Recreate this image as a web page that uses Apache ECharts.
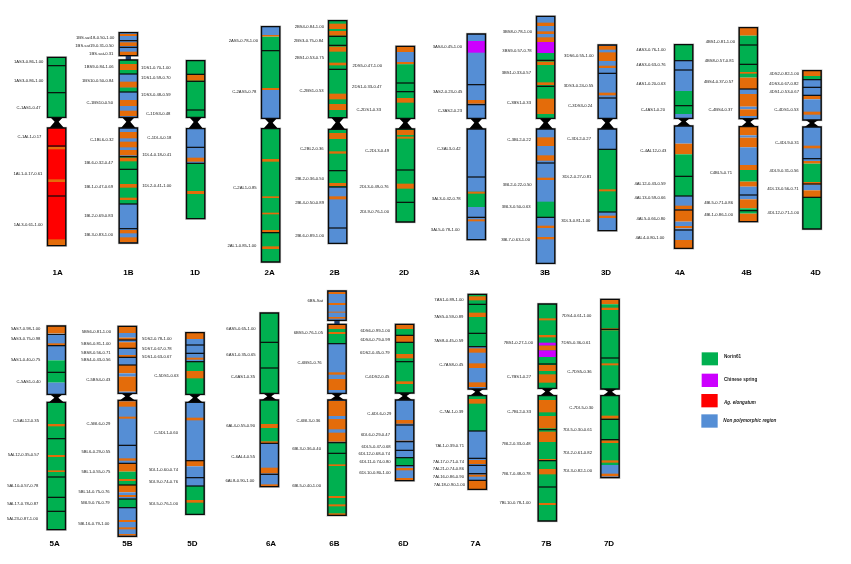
<!DOCTYPE html>
<html><head><meta charset="utf-8">
<style>html,body{margin:0;padding:0;background:#fff}#c{width:851px;height:564px}</style>
<script src="https://cdn.jsdelivr.net/npm/echarts@6/dist/echarts.min.js"></script>
</head><body><div id="c"></div>
<script>
// Map units: 3 units = 1 px. Each chromosome: arms, fragment dividers, bands [from,to,type], labels [rightEdge,y,text]
const panelOffsets=[0,215,425,630];
const typeColors={G:'#00B050',O:'#E46C0A',B:'#558ED5',P:'#CC00FF',R:'#FF0000'};

const arms1A=[[142,322],[354,707]], div1A=[167,248,408,558];
const bands1A=[[142,322,'G'],[354,707,'R'],[411,418,'O'],[508,516,'O'],[688,705,'O']];
const labels1A=[[130,155,'1AS3-0.86-1.00'],[130,213,'1AS3-0.86-1.00'],[122,294,'C-1AS1-0.47'],[124,381,'C-1AL1-0.17'],[127,492,'1AL1-0.17-0.61'],[128,645,'1AL3-0.61-1.00']];

const arms1B=[[68,137],[150,322],[354,699]], div1B=[92,112,192,246,440,478,582,656];
const bands1B=[[68,137,'B'],[72,78,'O'],[97,108,'O'],[125,135,'O'],[150,192,'G'],[162,180,'O'],[192,246,'B'],[215,233,'O'],[233,246,'G'],[246,322,'B'],[270,288,'O'],[302,318,'O'],[354,440,'B'],[366,385,'O'],[395,412,'O'],[420,436,'O'],[440,478,'G'],[443,454,'O'],[478,582,'G'],[522,533,'O'],[563,570,'O'],[582,656,'B'],[656,699,'B'],[660,670,'O'],[682,697,'O']];
const labels1B=[[343,85,'1BS.sat18-0.50-1.00'],[341,108,'1BS.sat19-0.31-0.50'],[340,133,'1BS.sat-0.31'],[341,171,'1BS9-0.84-1.06'],[341,213,'1BS10-0.50-0.84'],[339,279,'C-1BS10-0.50'],[341,390,'C-1BL6-0.32'],[339,460,'1BL6-0.32-0.47'],[339,532,'1BL1-0.47-0.69'],[339,618,'1BL2-0.69-0.83'],[339,675,'1BL3-0.83-1.00']];

const arms1D=[[152,322],[356,626]], div1D=[193,214,300,412,460];
const bands1D=[[152,322,'G'],[195,212,'O'],[356,460,'B'],[443,455,'O'],[460,626,'G'],[543,552,'O']];
const labels1D=[[512,173,'1DS1-0.70-1.00'],[512,205,'1DS1-0.59-0.70'],[512,256,'1DS3-0.48-0.59'],[511,312,'C-1DS3-0.48'],[514,384,'C-1DL4-0.18'],[514,435,'1DL4-0.18-0.41'],[514,528,'1DL2-0.41-1.00']];

const arms2A=[[50,325],[356,756]], div2A=[122,668];
const bands2A=[[50,78,'B'],[75,80,'O'],[80,235,'G'],[234,240,'O'],[240,325,'B'],[356,756,'G'],[447,455,'O'],[559,564,'O'],[608,613,'O'],[660,666,'O'],[709,717,'O']];
const labels2A=[[129,92,'2AS5-0.78-1.00'],[124,246,'C-2AS5-0.78'],[125,534,'C-2AL1-0.85'],[124,709,'2AL1-0.85-1.00']];

const arms2B=[[32,323],[358,700]], div2B=[79,106,178,482,531,654];
const bands2B=[[32,323,'G'],[41,57,'O'],[63,77,'O'],[110,125,'O'],[158,166,'O'],[251,268,'O'],[282,300,'O'],[358,531,'G'],[369,387,'O'],[424,431,'O'],[519,528,'O'],[531,700,'B'],[559,568,'O']];
const labels2B=[[327,52,'2BS4-0.84-1.00'],[325,93,'2BS3-0.75-0.84'],[327,145,'2BS1-0.53-0.75'],[326,244,'C-2BS1-0.53'],[326,416,'C-2BL2-0.36'],[327,506,'2BL2-0.36-0.50'],[327,579,'2BL4-0.50-0.89'],[327,677,'2BL6-0.89-1.00']];

const arms2D=[[109,325],[357,636]], div2D=[219,245,480,577];
const bands2D=[[109,126,'O'],[126,163,'B'],[156,163,'O'],[163,325,'G'],[264,278,'O'],[357,636,'G'],[360,375,'O'],[380,386,'O'],[521,536,'O']];
const labels2D=[[501,167,'2DS5-0.47-1.00'],[500,232,'2DS1-0.33-0.47'],[498,301,'C-2DS1-0.33'],[522,422,'C-2DL3-0.49'],[521,530,'2DL3-0.49-0.76'],[522,607,'2DL9-0.76-1.00']];

const arms3A=[[72,325],[357,689]], div3A=[224,284,501,622];
const bands3A=[[72,325,'B'],[93,128,'P'],[270,281,'O'],[357,689,'B'],[545,591,'G'],[545,551,'O'],[628,634,'O']];
const labels3A=[[111,111,'3AS4-0.45-1.00'],[112,246,'3AS2-0.23-0.45'],[111,303,'C-3AS2-0.23'],[107,416,'C-3AL3-0.42'],[107,568,'3AL3-0.42-0.78'],[104,661,'3AL5-0.78-1.00']];

const arms3B=[[19,325],[357,760]], div3B=[151,229,459,622];
const bands3B=[[19,96,'B'],[38,48,'O'],[64,72,'O'],[82,96,'O'],[96,129,'P'],[129,325,'G'],[155,165,'O'],[217,225,'O'],[266,312,'O'],[357,760,'B'],[382,408,'O'],[436,452,'O'],[503,510,'O'],[575,622,'G'],[647,654,'O'],[681,688,'O']];
const labels3B=[[321,66,'3BS8-0.78-1.00'],[320,123,'3BS9-0.57-0.78'],[318,188,'3BS1-0.33-0.57'],[318,278,'C-3BS1-0.33'],[318,391,'C-3BL2-0.22'],[320,526,'3BL2-0.22-0.50'],[317,591,'3BL3-0.50-0.63'],[315,689,'3BL7-0.63-1.00']];

const arms3D=[[105,325],[357,662]], div3D=[190,264,418,606];
const bands3D=[[105,325,'B'],[108,119,'O'],[127,153,'O'],[167,174,'O'],[248,256,'O'],[357,418,'B'],[418,606,'G'],[538,544,'O'],[606,662,'B'],[617,624,'O']];
const labels3D=[[506,138,'3DS6-0.55-1.00'],[505,228,'3DS3-0.24-0.55'],[502,289,'C-3DS3-0.24'],[498,387,'C-3DL2-0.27'],[499,501,'3DL2-0.27-0.81'],[496,634,'3DL3-0.81-1.00']];

const arms4A=[[104,325],[348,715]], div4A=[152,180,287,499,558,600,660];
const bands4A=[[104,152,'G'],[152,243,'B'],[243,312,'G'],[312,325,'B'],[348,401,'B'],[401,433,'O'],[433,558,'G'],[558,600,'B'],[587,597,'O'],[600,635,'O'],[635,648,'B'],[648,655,'O'],[655,690,'B'],[690,715,'O']];
const labels4A=[[107,119,'4AS3-0.76-1.00'],[107,165,'4AS3-0.63-0.76'],[107,221,'4AS1-0.20-0.63'],[105,301,'C-4AS1-0.20'],[109,422,'C-4AL12-0.43'],[107,523,'4AL12-0.43-0.59'],[107,565,'4AL13-0.59-0.66'],[106,627,'4AL5-0.66-0.80'],[103,685,'4AL4-0.80-1.00']];

const arms4B=[[53,326],[350,635]], div4B=[105,163,237,555,602];
const bands4B=[[53,77,'O'],[77,203,'G'],[186,191,'O'],[203,237,'O'],[237,252,'B'],[252,290,'O'],[290,298,'B'],[298,318,'O'],[318,326,'B'],[350,376,'O'],[376,383,'B'],[383,412,'O'],[412,465,'B'],[465,480,'O'],[480,515,'G'],[515,530,'O'],[530,568,'B'],[568,595,'O'],[595,611,'G'],[611,635,'O']];
const labels4B=[[315,96,'4BS1-0.81-1.00'],[312,153,'4BS8-0.57-0.81'],[310,217,'4BS4-0.37-0.57'],[308,299,'C-4BS4-0.37'],[306,490,'C4BL5-0.71'],[309,579,'4BL5-0.71-0.86'],[309,615,'4BL1-0.86-1.00']];

const arms4D=[[182,330],[351,657]], div4D=[209,232,256,446,522,562];
const bands4D=[[182,198,'O'],[198,209,'G'],[209,258,'B'],[258,268,'O'],[268,330,'B'],[305,314,'O'],[351,453,'B'],[407,415,'O'],[453,461,'O'],[461,516,'G'],[516,524,'O'],[524,541,'B'],[541,562,'O'],[562,657,'G']];
const labels4D=[[507,192,'4DS2-0.82-1.00'],[506,222,'4DS3-0.67-0.82'],[507,246,'4DS1-0.53-0.67'],[506,300,'C-4DS1-0.53'],[507,399,'C-4DL9-0.31'],[506,482,'4DL9-0.31-0.56'],[506,538,'4DL13-0.56-0.71'],[507,608,'4DL12-0.71-1.00']];

const arms5A=[[123,328],[352,734]], div5A=[148,182,262,461,576,637,679];
const bands5A=[[123,145,'O'],[148,182,'B'],[175,180,'O'],[182,226,'B'],[226,293,'G'],[293,328,'B'],[352,734,'G'],[417,424,'O'],[510,516,'O'],[556,561,'O']];
const labels5A=[[121,132,'5AS7-0.98-1.00'],[121,163,'5AS3-0.75-0.98'],[121,224,'5AS1-0.40-0.75'],[122,291,'C-5AS1-0.40'],[117,408,'C-5AL12-0.35'],[117,511,'5AL12-0.35-0.57'],[115,603,'5AL10-0.57-0.78'],[115,657,'5AL17-0.78-0.87'],[114,703,'5AL23-0.87-1.00']];

const arms5B=[[124,325],[346,754]], div5B=[165,190,217,240,481,535,600,642,668];
const bands5B=[[124,144,'O'],[144,158,'B'],[158,172,'O'],[165,172,'B'],[172,190,'O'],[190,210,'B'],[210,217,'O'],[217,240,'B'],[240,265,'O'],[265,275,'B'],[275,320,'O'],[320,325,'B'],[346,535,'B'],[349,365,'O'],[395,401,'O'],[520,527,'O'],[535,560,'O'],[560,600,'G'],[582,588,'O'],[600,622,'O'],[622,642,'B'],[630,636,'O'],[642,668,'G'],[668,754,'B'],[705,711,'O'],[727,733,'O'],[747,752,'O']];
const labels5B=[[333,140,'5BS6-0.81-1.00'],[332,178,'5BS6-0.81-1.00'],[332,203,'5BS8-0.56-0.71'],[332,226,'5BS4-0.43-0.56'],[331,285,'C-5BS4-0.43'],[331,416,'C-5BL6-0.29'],[331,500,'5BL6-0.29-0.55'],[331,561,'5BL1-0.55-0.75'],[329,621,'5BL14-0.75-0.76'],[329,653,'5BL9-0.76-0.79'],[328,717,'5BL16-0.79-1.00']];

const arms5D=[[143,328],[352,688]], div5D=[180,205,230,527,578,603];
const bands5D=[[143,162,'O'],[162,230,'B'],[218,224,'O'],[230,328,'G'],[258,280,'O'],[352,527,'B'],[398,406,'O'],[527,544,'O'],[544,603,'B'],[603,688,'G'],[645,653,'O']];
const labels5D=[[515,162,'5DS2-0.78-1.00'],[515,192,'5DS7-0.67-0.78'],[515,217,'5DS1-0.63-0.67'],[536,272,'C-5DS1-0.63'],[534,444,'C-5DL1-0.60'],[534,555,'5DL1-0.60-0.74'],[534,591,'5DL9-0.74-0.76'],[534,657,'5DL5-0.76-1.00']];

const arms6A=[[84,325],[345,605]], div6A=[172,249,475,568];
const bands6A=[[84,325,'G'],[345,475,'G'],[417,429,'O'],[469,475,'O'],[475,568,'B'],[548,565,'O'],[568,605,'B'],[598,605,'O']];
const labels6A=[[122,131,'6AS5-0.65-1.00'],[122,211,'6AS1-0.35-0.65'],[120,277,'C-6AS1-0.35'],[120,423,'6AL4-0.55-0.90'],[120,515,'C-6AL4-0.55'],[118,587,'6AL8-0.90-1.00']];

const arms6B=[[18,106],[118,325],[345,691]], div6B=[176,473,505];
const bands6B=[[18,106,'B'],[21,27,'O'],[54,60,'O'],[80,83,'O'],[96,101,'O'],[118,132,'O'],[132,176,'G'],[141,147,'O'],[176,325,'B'],[262,269,'O'],[282,315,'O'],[345,473,'B'],[348,393,'O'],[402,433,'O'],[443,470,'O'],[473,691,'G'],[538,543,'O'],[633,639,'O'],[658,664,'O'],[685,690,'O']];
const labels6B=[[324,48,'6BS-Sat'],[324,144,'6BS5-0.76-1.05'],[320,235,'C-6BS1-0.76'],[316,408,'C-6BL3-0.36'],[318,492,'6BL3-0.36-0.40'],[318,604,'6BL5-0.40-1.00']];

const arms6D=[[118,324],[345,587]], div6D=[151,172,230,420,470,496,518,542];
const bands6D=[[118,132,'O'],[132,151,'G'],[151,172,'O'],[172,324,'G'],[207,220,'O'],[289,297,'O'],[345,518,'B'],[405,416,'O'],[467,470,'O'],[518,542,'G'],[542,587,'B'],[549,556,'O'],[579,585,'O']];
const labels6D=[[525,139,'6DS6-0.99-1.00'],[525,165,'6DS4-0.79-0.99'],[524,203,'6DS2-0.45-0.79'],[523,275,'C-6DS2-0.45'],[529,387,'C-6DL6-0.29'],[525,449,'6DL6-0.29-0.47'],[527,486,'6DL5-0.47-0.68'],[525,508,'6DL12-0.68-0.74'],[527,531,'6DL11-0.74-0.80'],[527,565,'6DL10-0.80-1.00']];

const arms7A=[[28,312],[332,613]], div7A=[58,145,185,438,520,541,566,586];
const bands7A=[[28,185,'G'],[34,46,'O'],[83,96,'O'],[185,312,'B'],[190,203,'O'],[235,249,'O'],[292,306,'O'],[332,438,'G'],[342,356,'O'],[438,586,'B'],[525,537,'O'],[569,575,'O'],[586,613,'O']];
const labels7A=[[116,46,'7AS1-0.89-1.00'],[115,95,'7AS5-0.59-0.89'],[115,168,'7AS8-0.45-0.59'],[115,240,'C-7AS8-0.45'],[115,380,'C-7AL1-0.39'],[117,483,'7AL1-0.39-0.71'],[117,532,'7AL17-0.71-0.74'],[117,553,'7AL21-0.74-0.86'],[117,576,'7AL16-0.86-0.90'],[120,601,'7AL18-0.90-1.00']];

const arms7B=[[57,310],[332,708]], div7B=[237,434,527,606];
const bands7B=[[57,310,'G'],[100,106,'O'],[150,157,'O'],[173,182,'P'],[182,196,'O'],[196,216,'P'],[240,258,'O'],[268,293,'O'],[332,708,'G'],[345,382,'O'],[393,430,'O'],[440,471,'O'],[522,527,'O'],[552,568,'O'],[654,660,'O']];
const labels7B=[[324,174,'7BS1-0.27-1.00'],[318,275,'C-7BS1-0.27'],[318,381,'C-7BL2-0.33'],[317,478,'7BL2-0.33-0.48'],[317,566,'7BL7-0.48-0.78'],[317,655,'7BL10-0.78-1.00']];

const arms7D=[[43,312],[332,578]], div7D=[133,219,403,464];
const bands7D=[[43,58,'O'],[58,312,'G'],[68,75,'O'],[130,136,'O'],[235,241,'O'],[332,540,'G'],[392,401,'O'],[466,474,'O'],[526,533,'O'],[540,578,'B'],[566,574,'O']];
const labels7D=[[499,92,'7DS4-0.61-1.00'],[497,173,'7DS5-0.36-0.61'],[500,261,'C-7DS5-0.36'],[505,369,'C-7DL5-0.30'],[501,436,'7DL5-0.30-0.61'],[501,503,'7DL2-0.61-0.82'],[501,558,'7DL3-0.82-1.00']];

// name,row,panel,centre,nameX,nameY,arms,dividers,bands,labels
const chromosomes=[
['1A',0,0,170,173,787,arms1A,div1A,bands1A,labels1A],['1B',0,0,385,385,787,arms1B,div1B,bands1B,labels1B],['1D',0,0,587,585,787,arms1D,div1D,bands1D,labels1D],
['2A',0,1,167,164,787,arms2A,div2A,bands2A,labels2A],['2B',0,1,368,359,787,arms2B,div2B,bands2B,labels2B],['2D',0,1,571,567,787,arms2D,div2D,bands2D,labels2D],
['3A',0,2,154,149,787,arms3A,div3A,bands3A,labels3A],['3B',0,2,362,360,787,arms3B,div3B,bands3B,labels3B],['3D',0,2,547,543,787,arms3D,div3D,bands3D,labels3D],
['4A',0,3,161,150,787,arms4A,div4A,bands4A,labels4A],['4B',0,3,355,350,787,arms4B,div4B,bands4B,labels4B],['4D',0,3,546,557,787,arms4D,div4D,bands4D,labels4D],
['5A',1,0,169,164,776,arms5A,div5A,bands5A,labels5A],['5B',1,0,382,382,776,arms5B,div5B,bands5B,labels5B],['5D',1,0,585,577,776,arms5D,div5D,bands5D,labels5D],
['6A',1,1,163,168,776,arms6A,div6A,bands6A,labels6A],['6B',1,1,366,358,776,arms6B,div6B,bands6B,labels6B],['6D',1,1,569,565,776,arms6D,div6D,bands6D,labels6D],
['7A',1,2,157,152,776,arms7A,div7A,bands7A,labels7A],['7B',1,2,367,364,776,arms7B,div7B,bands7B,labels7B],['7D',1,2,555,552,776,arms7D,div7D,bands7D,labels7D]
];
const satelliteGapColor='#1F3F73';
const legendNames=['Norin61','Chinese spring','Ag. elongatum','Non polymorphic region'];
const legendTypes=['G','P','R','B'];
const legendBoxes=[[215,264,202,241],[215,264,266,306],[214,263,327,367],[214,263,388,428]];
const legendTextPos=[[282,215],[282,285],[282,353],[280,408]];

const BARW=55;
function col(p,z){return panelOffsets[p]*3+z;}
const rowData=[0,1].map(()=>({bands:[],arms:[],divs:[],cents:[],links:[],texts:[],names:[]}));
chromosomes.forEach(([name,r,p,cx,nx,ny,arms,divs,bands,labels])=>{
  const d=rowData[r],x=col(p,cx);
  bands.forEach(b=>d.bands.push([x,b[0],b[1],b[2]]));
  arms.forEach(a=>d.arms.push([x,a[0],a[1]]));
  divs.forEach(v=>d.divs.push([x,v]));
  for(let i=0;i+1<arms.length;i++){
    if(i+2===arms.length) d.cents.push([x,arms[i][1],arms[i+1][0]]);
    else d.links.push([x,arms[i][1],arms[i+1][0]]);
  }
  labels.forEach(l=>d.texts.push([col(p,l[0]),l[1],l[2]]));
  d.names.push([col(p,nx),ny,name]);
});
const legendSw=legendBoxes.map((b,i)=>[col(3,b[0]),col(3,b[1]),b[2],b[3],legendTypes[i]]);
const legendTx=legendNames.map((n,i)=>[col(3,legendTextPos[i][0]),legendTextPos[i][1],n]);

function rectOf(api,x0,x1,y0,y1){
  const a=api.coord([x0,y0]),b=api.coord([x1,y1]);
  return {x:a[0],y:a[1],width:b[0]-a[0],height:b[1]-a[1]};
}
function custom(r,data,render,z){
  return {type:'custom',xAxisIndex:r,yAxisIndex:r,data,renderItem:render,z,silent:true,animation:false,clip:false,
    encode:{x:0,y:1}};
}
const renderHalo=(p,api)=>({type:'rect',shape:rectOf(api,api.value(0)-BARW/2,api.value(0)+BARW/2,api.value(1),api.value(2)),style:{fill:'none',stroke:'#c9c9c9',lineWidth:2.6}});
const renderBand=(p,api)=>{
  const row=rowData[api.value(4)||0];
  return null;
};
function mkBand(data){return (p,api)=>{const d=data[p.dataIndex];return {type:'rect',shape:rectOf(api,d[0]-BARW/2,d[0]+BARW/2,d[1],d[2]),style:{fill:typeColors[d[3]]}};};}
const renderOutline=(p,api)=>({type:'rect',shape:rectOf(api,api.value(0)-BARW/2,api.value(0)+BARW/2,api.value(1),api.value(2)),style:{fill:'none',stroke:'#0a0a0a',lineWidth:1.4}});
const renderDiv=(p,api)=>{const a=api.coord([api.value(0)-BARW/2,api.value(1)]),b=api.coord([api.value(0)+BARW/2,api.value(1)]);
  return {type:'line',shape:{x1:a[0],y1:a[1],x2:b[0],y2:b[1]},style:{stroke:'#0a0a0a',lineWidth:1.2}};};
const renderCent=(p,api)=>{const x=api.value(0),t=api.value(1),b=api.value(2),n=t+(b-t)*0.42;
  const P=(dx,y)=>api.coord([x+dx,y]);
  return {type:'polygon',shape:{points:[P(-19,t),P(19,t),P(6,n),P(22,b),P(-22,b),P(-6,n)]},style:{fill:'#000'}};};
const renderLink=(p,api)=>({type:'rect',shape:rectOf(api,api.value(0)-8,api.value(0)+8,api.value(1),api.value(2)),style:{fill:satelliteGapColor}});
function mkText(data,style,align){return (p,api)=>{const d=data[p.dataIndex];const c=api.coord([d[0],d[1]]);
  return {type:'text',x:c[0],y:c[1],style:Object.assign({text:d[2],align,verticalAlign:'middle',fill:'#1a1a1a',fontFamily:'Liberation Sans'},style(d))};};}

const series=[];
[0,1].forEach(r=>{
  const d=rowData[r];
  series.push(custom(r,d.arms.map(a=>a.slice()),renderHalo,1));
  series.push(custom(r,d.links,renderLink,2));
  series.push(custom(r,d.bands,mkBand(d.bands),3));
  series.push(custom(r,d.cents,renderCent,4));
  series.push(custom(r,d.divs,renderDiv,5));
  series.push(custom(r,d.arms,renderOutline,6));
  series.push(custom(r,d.texts,mkText(d.texts,()=>({fontSize:4.2}),'right'),7));
  series.push(custom(r,d.names,mkText(d.names,()=>({fontSize:8,fontWeight:'bold',fill:'#000'}),'center'),7));
});
series.push(custom(1,legendSw,(p,api)=>{const d=legendSw[p.dataIndex];return {type:'rect',shape:rectOf(api,d[0],d[1],d[2],d[3]),style:{fill:typeColors[d[4]]}};},3));
series.push(custom(1,legendTx,mkText(legendTx,d=>({fontSize:4.6,fontStyle:d[2]==='Ag. elongatum'||d[2]==='Non polymorphic region'?'italic':'normal',fontWeight:'bold'}),'left'),7));

const axisOff={show:false};
const chart=echarts.init(document.getElementById('c'),null,{renderer:'canvas'});
chart.setOption({
  animation:false,backgroundColor:'#fff',
  grid:[{left:0,width:851,top:10,height:270},{left:0,width:851,top:285,height:270}],
  xAxis:[0,1].map(i=>({type:'value',gridIndex:i,min:0,max:2553,...axisOff})),
  yAxis:[0,1].map(i=>({type:'value',gridIndex:i,min:0,max:810,inverse:true,...axisOff})),
  series
});
</script></body></html>
